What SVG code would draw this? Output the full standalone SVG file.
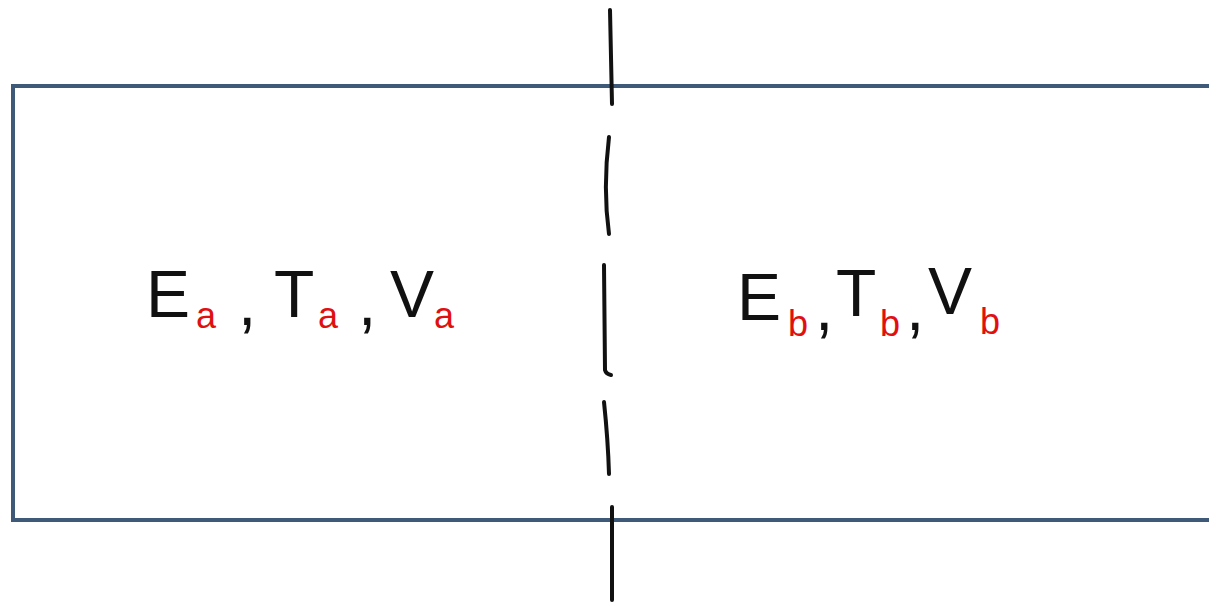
<svg xmlns="http://www.w3.org/2000/svg" width="1209" height="603" viewBox="0 0 1209 603">
<style>
.main{font-family:"Liberation Sans",Arial,sans-serif;font-size:66px;fill:#111}
.sub{font-family:"Liberation Sans",Arial,sans-serif;font-size:36px;fill:#e01010}
.box{fill:none;stroke:#3f5a78;stroke-width:4}
.dash{fill:none;stroke:#111;stroke-width:4;stroke-linecap:round}
</style>
<rect width="1209" height="603" fill="#fff"/>
<g id="container">
<path class="box" d="M1212,86 H13 V520 H1212"/>
</g>
<g id="connectors">
<path class="dash" d="M610,10 L612,104"/>
<path class="dash" d="M609,137 C605,170 605,205 609,234"/>
<path class="dash" d="M604,265 L605,370 Q606,374 611,375"/>
<path class="dash" d="M604,402 Q608,440 609,474"/>
<path class="dash" d="M612,507 L612,600"/>
</g>
<g id="state-a">
<text class="main" x="146" y="317">E</text>
<text class="sub" x="196" y="328">a</text>
<text class="main" x="238" y="325" font-size="50">,</text>
<text class="main" x="274" y="317">T</text>
<text class="sub" x="318" y="328">a</text>
<text class="main" x="358" y="325" font-size="50">,</text>
<text class="main" x="390" y="317">V</text>
<text class="sub" x="434" y="328">a</text>
</g>
<g id="state-b">
<text class="main" x="737" y="320">E</text>
<text class="sub" x="788" y="336">b</text>
<text class="main" x="815" y="330" font-size="50">,</text>
<text class="main" x="836" y="316">T</text>
<text class="sub" x="880" y="336">b</text>
<text class="main" x="906" y="330" font-size="50">,</text>
<text class="main" x="928" y="314">V</text>
<text class="sub" x="980" y="334">b</text>
</g>
</svg>
